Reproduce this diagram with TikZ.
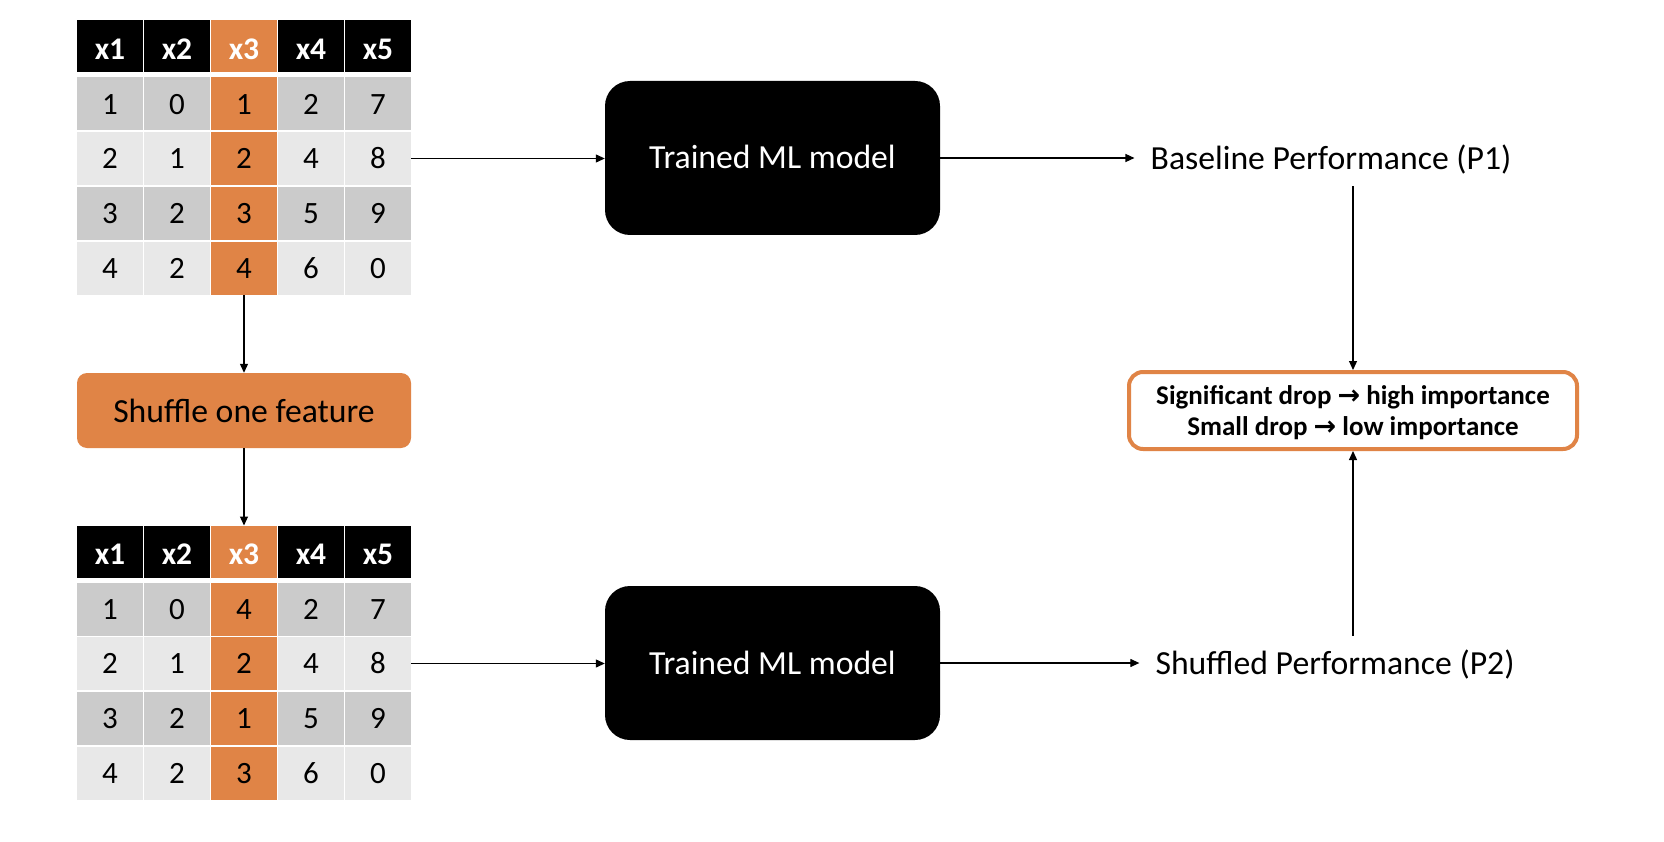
\documentclass[tikz,border=0pt]{standalone}
\usepackage{fontspec}
\setmainfont{Carlito}
\newfontfamily\arrowfont{DejaVu Sans}
\usetikzlibrary{arrows.meta}
\definecolor{orng}{RGB}{224,132,70}
\definecolor{gdark}{RGB}{203,203,203}
\definecolor{glight}{RGB}{232,232,232}
\tikzset{
  colfill/.code 2 args={\ifnum#1=3\relax\pgfkeysalso{fill=orng}\else\pgfkeysalso{fill=#2}\fi},
  cell/.style={minimum width=66pt,minimum height=53pt,inner sep=0pt,outer sep=0pt,
    text height=20.6pt,text depth=0pt,font=\fontsize{31}{36}\selectfont},
  hcell/.style={minimum width=66pt,minimum height=52pt,inner sep=0pt,outer sep=0pt,
    text=white,text height=25.5pt,text depth=0pt,font=\fontsize{31.5}{36}\selectfont\bfseries},
  arr/.style={-{Triangle[length=9pt,width=8pt]},line width=1.2pt,black},
  mlbox/.style={minimum width=335pt,minimum height=154pt,rounded corners=25pt,fill=black,
    text=white,inner sep=0pt,text height=22pt,text depth=0pt,font=\fontsize{33.7}{40}\selectfont},
  shufbox/.style={minimum width=334pt,minimum height=75pt,rounded corners=10pt,fill=orng,
    inner sep=0pt,text height=23pt,text depth=0pt,font=\fontsize{33.7}{40}\selectfont},
  lbl/.style={inner sep=16pt,text height=22pt,text depth=0pt,font=\fontsize{33.7}{40}\selectfont},
  resbox/.style={minimum width=448pt,minimum height=77pt,draw=orng,line width=4pt,
    rounded corners=14pt,fill=white},
  restxt/.style={inner sep=0pt,anchor=base,font=\fontsize{27}{31}\selectfont\bfseries}
}
\newcommand{\feattable}[6]{%
  \foreach \h [count=\c] in {x1,x2,x3,x4,x5}{
    \node[hcell,colfill={\c}{black}] (#1-0-\c) at ({43+67*\c},{46.5+#2}) {\h};
  }
  \foreach \r/\yy/\fillc/\vals in {1/104/gdark/{#3},2/158.5/glight/{#4},3/213.5/gdark/{#5},4/268.5/glight/{#6}}{
    \foreach \v [count=\c] in \vals {
      \node[cell,colfill={\c}{\fillc}] (#1-\r-\c) at ({43+67*\c},{\yy+#2}) {\v};
    }
  }
}
\begin{document}
\begin{tikzpicture}[x=1pt,y=-1pt]
\fill[white] (0,0) rectangle (1664,842);
\useasboundingbox (0,0) rectangle (1664,842);

\feattable{a}{0}{1,0,1,2,7}{2,1,2,4,8}{3,2,3,5,9}{4,2,4,6,0}
\feattable{b}{505}{1,0,4,2,7}{2,1,2,4,8}{3,2,1,5,9}{4,2,3,6,0}

\node[shufbox] (shuf) at (244,410.5) {Shuffle one feature};

\node[mlbox] (ml1) at (772.5,158) {Trained ML model};
\node[mlbox] (ml2) at (772.5,663) {Trained ML model};

\node[lbl] (p1) at (1331,159) {Baseline Performance (P1)};
\node[lbl] (p2) at (1335,663) {Shuffled Performance (P2)};

\node[resbox] (res) at (1353,410.5) {};
\node[restxt] (r1) at (1353,404) {Significant drop {\arrowfont\bfseries →} high importance};
\node[restxt] (r2) at (1353,435) {Small drop {\arrowfont\bfseries →} low importance};

\draw[arr] (a-4-3.south) -- (shuf.north);
\draw[arr] (shuf.south) -- (b-0-3.north);
\draw[arr] (a-2-5.east) -- (a-2-5.east -| ml1.west);
\draw[arr] (b-2-5.east) -- (b-2-5.east -| ml2.west);
\draw[arr] (ml1.east) -- (ml1.east -| p1.west);
\draw[arr] (ml2.east) -- (ml2.east -| p2.west);
\draw[arr] (p1.south -| res.north) -- (res.north);
\draw[arr] (p2.north -| res.south) -- (res.south);
\end{tikzpicture}
\end{document}
